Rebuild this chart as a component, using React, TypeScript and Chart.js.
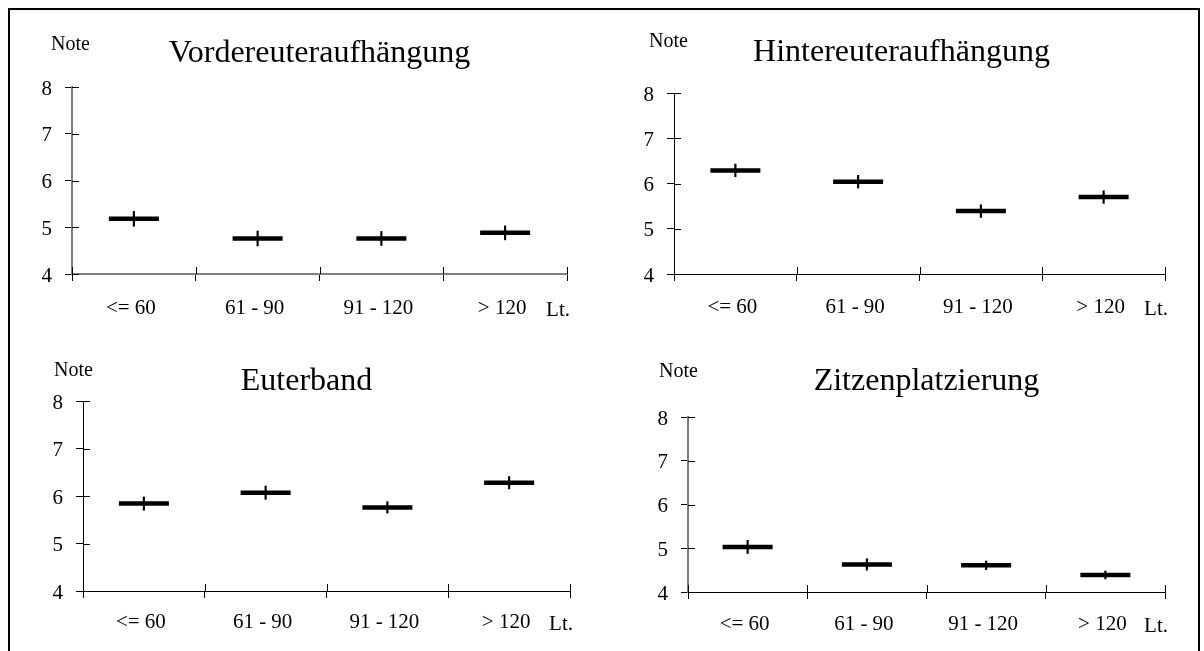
import React, { useEffect, useRef } from "react";
import { Chart, registerables } from "chart.js";

Chart.register(...registerables);

// ---------- data ----------
const categories = ["<= 60", "61 - 90", "91 - 120", "> 120"];
const yTickValues = [4, 5, 6, 7, 8];
const yAxisLabel = "Note";
const xAxisUnit = "Lt.";

const titles = ["Vordereuteraufhängung", "Hintereuteraufhängung", "Euterband", "Zitzenplatzierung"];

const vordereuterMean = [5.18, 4.76, 4.76, 4.88];
const vordereuterSE = [0.16, 0.16, 0.15, 0.15];

const hintereuterMean = [6.29, 6.04, 5.39, 5.7];
const hintereuterSE = [0.14, 0.14, 0.14, 0.14];

const euterbandMean = [5.84, 6.07, 5.76, 6.28];
const euterbandSE = [0.14, 0.14, 0.12, 0.13];

const zitzenMean = [5.03, 4.63, 4.61, 4.39];
const zitzenSE = [0.15, 0.13, 0.1, 0.09];

const FONT = '"Liberation Serif", "Times New Roman", serif';
const TICK_FONT_SIZE = 21;

// ---------- layout (page pixels) ----------
type PanelCfg = {
  title: string;
  mean: number[];
  se: number[];
  cx: number; cy: number; cw: number; ch: number;
  L: number; T: number; R: number; B: number;
  titleDx: number; titleDy: number;
  noteDx: number; noteDy: number;
  xLabDy: number;
  yBorder: string; yBorderW: number;
  xBorder: string; xBorderW: number;
};

const YW = 60;
const XH = 50;

const panels: PanelCfg[] = [
  {
    title: titles[0], mean: vordereuterMean, se: vordereuterSE,
    cx: 10, cy: 10, cw: 590, ch: 320,
    L: 72, T: 87, R: 567, B: 274,
    titleDx: 0, titleDy: -25, noteDx: -21, noteDy: -37, xLabDy: 42,
    yBorder: "#808080", yBorderW: 2, xBorder: "#808080", xBorderW: 2,
  },
  {
    title: titles[1], mean: hintereuterMean, se: hintereuterSE,
    cx: 600, cy: 10, cw: 596, ch: 320,
    L: 674, T: 93, R: 1165, B: 274,
    titleDx: -18, titleDy: -32, noteDx: -25, noteDy: -46, xLabDy: 41,
    yBorder: "#000", yBorderW: 1, xBorder: "#000", xBorderW: 1,
  },
  {
    title: titles[2], mean: euterbandMean, se: euterbandSE,
    cx: 10, cy: 330, cw: 590, ch: 318,
    L: 83, T: 401, R: 570, B: 591,
    titleDx: -20, titleDy: -11, noteDx: -29, noteDy: -25, xLabDy: 39,
    yBorder: "#000", yBorderW: 1, xBorder: "#000", xBorderW: 1,
  },
  {
    title: titles[3], mean: zitzenMean, se: zitzenSE,
    cx: 600, cy: 330, cw: 596, ch: 318,
    L: 688, T: 417, R: 1165, B: 592,
    titleDx: 0, titleDy: -27, noteDx: -29, noteDy: -40, xLabDy: 40,
    yBorder: "#808080", yBorderW: 2, xBorder: "#000", xBorderW: 1,
  },
];

const TICK_IN = 7;

const panelTextPlugin = {
  id: "panelText",
  afterDraw(chart: any, _args: any, opts: any) {
    const { ctx, chartArea } = chart;
    const { left, right, top, bottom } = chartArea;
    ctx.save();
    ctx.strokeStyle = "#000";
    ctx.lineWidth = 1;
    const ys = chart.scales.y;
    for (const t of ys.ticks) {
      const py = Math.round(ys.getPixelForValue(t.value)) + 0.5;
      ctx.beginPath();
      ctx.moveTo(left, py);
      ctx.lineTo(left + TICK_IN, py);
      ctx.stroke();
    }
    const xs = chart.scales.x;
    const n = xs.ticks.length;
    for (let i = 0; i <= n; i++) {
      const px = Math.round(xs.getPixelForValue(i - 0.5)) + 0.5;
      ctx.beginPath();
      ctx.moveTo(px, bottom - TICK_IN);
      ctx.lineTo(px, bottom);
      ctx.stroke();
    }
    ctx.fillStyle = "#000";
    ctx.textBaseline = "alphabetic";
    ctx.font = `32px ${FONT}`;
    ctx.textAlign = "center";
    ctx.fillText(opts.title, (left + right) / 2 + opts.titleDx, top + opts.titleDy);
    ctx.font = `20px ${FONT}`;
    ctx.textAlign = "left";
    ctx.fillText(yAxisLabel, left + opts.noteDx, top + opts.noteDy);
    ctx.font = `${TICK_FONT_SIZE}px ${FONT}`;
    ctx.textAlign = "right";
    ctx.fillText(xAxisUnit, right + 3, bottom + opts.xLabDy);
    ctx.restore();
  },
};

function Panel({ cfg }: { cfg: PanelCfg }) {
  const ref = useRef<HTMLCanvasElement>(null);
  useEffect(() => {
    if (!ref.current) return;
    const padding = {
      left: cfg.L - cfg.cx - YW,
      right: cfg.cx + cfg.cw - cfg.R,
      top: cfg.T - cfg.cy,
      bottom: cfg.cy + cfg.ch - cfg.B - XH,
    };
    const ranges = cfg.mean.map((m, i) => [m - cfg.se[i], m + cfg.se[i]]);
    const chart = new Chart(ref.current, {
      type: "bar",
      data: {
        labels: categories,
        datasets: [
          {
            type: "line",
            label: "Mittelwert",
            data: cfg.mean,
            showLine: false,
            pointStyle: "line",
            pointRadius: 25,
            pointHoverRadius: 25,
            pointBorderWidth: 4.5,
            pointBorderColor: "#000",
            pointBackgroundColor: "#000",
            order: 1,
          } as any,
          {
            type: "bar",
            label: "SE",
            data: ranges as any,
            backgroundColor: "#000",
            borderWidth: 0,
            barThickness: 1.5,
            order: 2,
          },
        ],
      },
      options: {
        responsive: false,
        animation: false,
        devicePixelRatio: 1,
        layout: { padding },
        plugins: {
          legend: { display: false },
          tooltip: { enabled: false },
          title: { display: false },
          panelText: {
            title: cfg.title,
            titleDx: cfg.titleDx,
            titleDy: cfg.titleDy,
            noteDx: cfg.noteDx,
            noteDy: cfg.noteDy,
            xLabDy: cfg.xLabDy,
          },
        } as any,
        scales: {
          x: {
            type: "category",
            offset: true,
            afterFit: (s: any) => { s.height = XH; },
            grid: {
              offset: true,
              drawOnChartArea: false,
              drawTicks: true,
              tickLength: 7,
              color: "#000",
              lineWidth: 1,
            },
            border: { display: true, color: cfg.xBorder, width: cfg.xBorderW },
            ticks: {
              color: "#000",
              font: { family: FONT, size: TICK_FONT_SIZE },
              padding: cfg.xLabDy - 27,
              labelOffset: -3,
              maxRotation: 0,
              autoSkip: false,
            },
          },
          y: {
            min: yTickValues[0],
            max: yTickValues[yTickValues.length - 1],
            afterFit: (s: any) => { s.width = YW; },
            afterBuildTicks: (s: any) => { s.ticks = yTickValues.map((v) => ({ value: v })); },
            grid: {
              drawOnChartArea: false,
              drawTicks: true,
              tickLength: 7,
              color: "#000",
              lineWidth: 1,
            },
            border: { display: true, color: cfg.yBorder, width: cfg.yBorderW },
            ticks: {
              color: "#000",
              font: { family: FONT, size: TICK_FONT_SIZE },
              padding: 13,
              labelOffset: 2,
            },
          },
        },
      },
      plugins: [panelTextPlugin],
    });
    return () => chart.destroy();
  }, [cfg]);
  return (
    <canvas
      ref={ref}
      width={cfg.cw}
      height={cfg.ch}
      style={{ position: "absolute", left: cfg.cx, top: cfg.cy, width: cfg.cw, height: cfg.ch }}
    />
  );
}

export default function App() {
  return (
    <div
      style={{
        position: "fixed",
        left: 0,
        top: 0,
        width: 1204,
        height: 651,
        overflow: "hidden",
        background: "#fff",
      }}
    >
      <div
        style={{
          position: "absolute",
          left: 8,
          top: 8,
          width: 1192,
          height: 700,
          border: "2px solid #000",
          boxSizing: "border-box",
        }}
      />
      {panels.map((p, i) => (
        <Panel key={i} cfg={p} />
      ))}
    </div>
  );
}
